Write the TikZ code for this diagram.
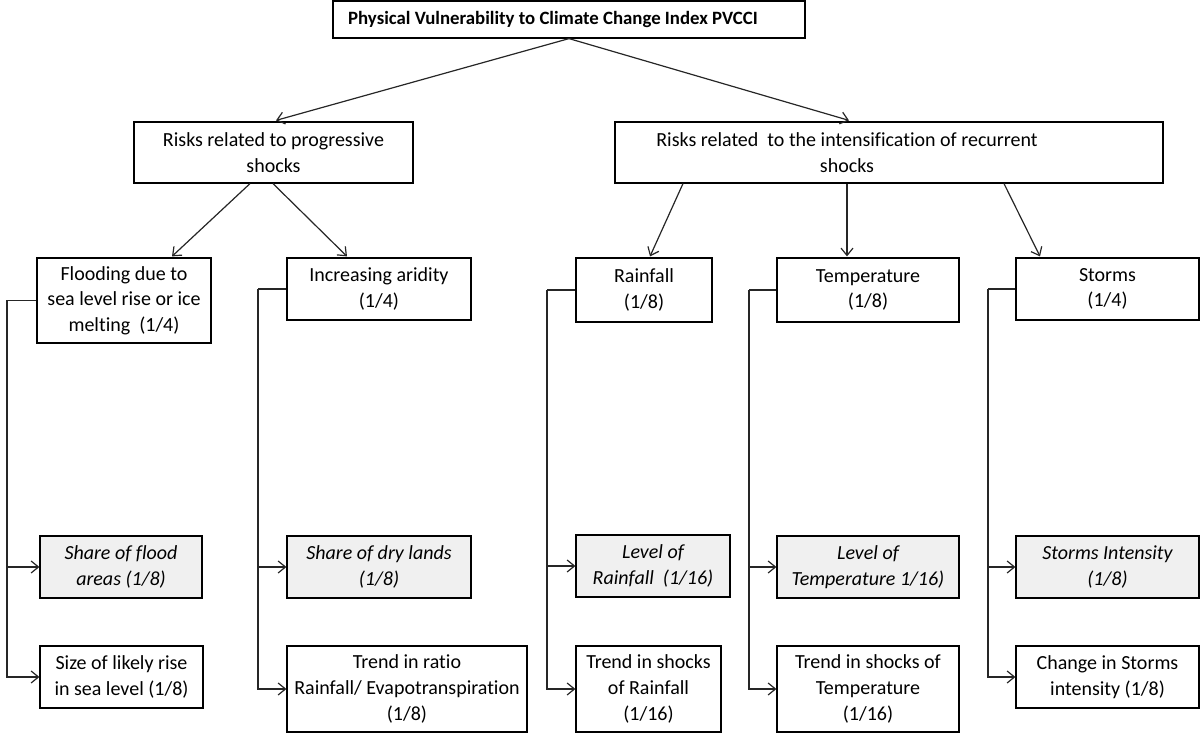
\documentclass[tikz,border=0pt]{standalone}
\usepackage{fontspec}
\setmainfont[Ligatures=NoCommon]{Carlito}
\usetikzlibrary{arrows.meta,calc}
\begin{document}
\begin{tikzpicture}[x=0.75pt,y=-0.75pt,
  font=\fontsize{15}{19.2}\selectfont,
  box/.style 2 args={draw=black,line width=0.9pt,inner sep=0pt,align=center,
    minimum width=#1*0.75pt,minimum height=#2*0.75pt,fill=white},
  gbox/.style 2 args={box={#1}{#2},fill=black!6},
  conn/.style={draw=black!85,line width=0.9pt,-{Straight Barb[length=5.5pt,width=9pt]}},
  brk/.style={draw=black!85,line width=0.9pt}]
\useasboundingbox (0,0) rectangle (1200,734);
% top levels
\node[box={472}{37},font=\fontsize{14.1}{19}\selectfont\bfseries] (title) at (569,19.5) {Physical Vulnerability to Climate Change Index PVCCI\hspace*{24pt}};
\node[box={279}{61}] (prog) at (273.5,152.5) {Risks related to progressive\\shocks};
\node[box={548}{61}] (recur) at (889,152.5) {Risks related \ to the intensification of recurrent\hspace*{63pt}\\shocks\hspace*{63pt}};
% second level
\node[box={174}{85}] (flood) at (124,300.5) {Flooding due to\\sea level rise or ice\\melting \ (1/4)};
\node[box={184}{62}] (arid) at (379,289) {Increasing aridity\\(1/4)};
\node[box={136}{64}] (rain) at (644,290) {Rainfall\\(1/8)};
\node[box={182}{64}] (temp) at (868,290) {Temperature\\(1/8)};
\node[box={183}{62}] (storm) at (1107.5,289) {Storms\\(1/4)};
% indicators
\node[gbox={162}{62}] (sfa) at (121,567) {\itshape Share of flood\\\itshape areas (1/8)};
\node[box={163}{62}] (size) at (121.5,677) {Size of likely rise\\in sea level (1/8)};
\node[gbox={184}{62}] (sdl) at (379,567) {\itshape Share of dry lands\\\itshape (1/8)};
\node[box={240}{86}] (ratio) at (407,689) {Trend in ratio\\Rainfall/ Evapotranspiration\\(1/8)};
\node[gbox={154}{62}] (lor) at (653,566) {\itshape Level of\\\itshape Rainfall \ (1/16)};
\node[box={145}{86}] (tsr) at (648.5,689) {Trend in shocks\\of Rainfall\\(1/16)};
\node[gbox={182}{62}] (lot) at (868,567) {\itshape Level of\\\itshape Temperature 1/16)};
\node[box={182}{86}] (tst) at (868,689) {Trend in shocks of\\Temperature\\(1/16)};
\node[gbox={183}{62}] (si) at (1107.5,567) {\itshape Storms Intensity\\\itshape (1/8)};
\node[box={183}{62}] (cis) at (1107.5,677) {Change in Storms\\intensity (1/8)};
% top arrows
\draw[conn] (title.south) -- ($(prog.north)+(2.5,-1)$);
\draw[conn] (title.south) -- ($(recur.north)+(-40,-1)$);
\draw[conn] ($(prog.south)+(-23.5,0)$) -- ($(flood.north)+(48,-1)$);
\draw[conn] ($(prog.south)+(-0.5,0)$) -- ($(arid.north)+(-32,-1)$);
\draw[conn] ($(recur.south)+(-206,0)$) -- ($(rain.north)+(6,-1)$);
\draw[conn] ($(recur.south)+(-42,0)$) -- ($(temp.north)+(-21,-1)$);
\draw[conn] ($(recur.south)+(115,0)$) -- ($(storm.north)+(-67.5,-1)$);
% brackets
\coordinate (b1) at (7,0);
\coordinate (b2) at (258,0);
\coordinate (b3) at (547,0);
\coordinate (b4) at (749,0);
\coordinate (b5) at (988,0);
\draw[brk] (flood.west) -- (flood.west -| b1);
\draw[conn] (flood.west -| b1) |- (size.west);
\draw[conn] (sfa.west -| b1) -- (sfa.west);
\draw[brk] (arid.west) -- (arid.west -| b2);
\draw[conn] (arid.west -| b2) |- (ratio.west);
\draw[conn] (sdl.west -| b2) -- (sdl.west);
\draw[brk] (rain.west) -- (rain.west -| b3);
\draw[conn] (rain.west -| b3) |- (tsr.west);
\draw[conn] (lor.west -| b3) -- (lor.west);
\draw[brk] (temp.west) -- (temp.west -| b4);
\draw[conn] (temp.west -| b4) |- (tst.west);
\draw[conn] (lot.west -| b4) -- (lot.west);
\draw[brk] (storm.west) -- (storm.west -| b5);
\draw[conn] (storm.west -| b5) |- (cis.west);
\draw[conn] (si.west -| b5) -- (si.west);
\end{tikzpicture}
\end{document}
